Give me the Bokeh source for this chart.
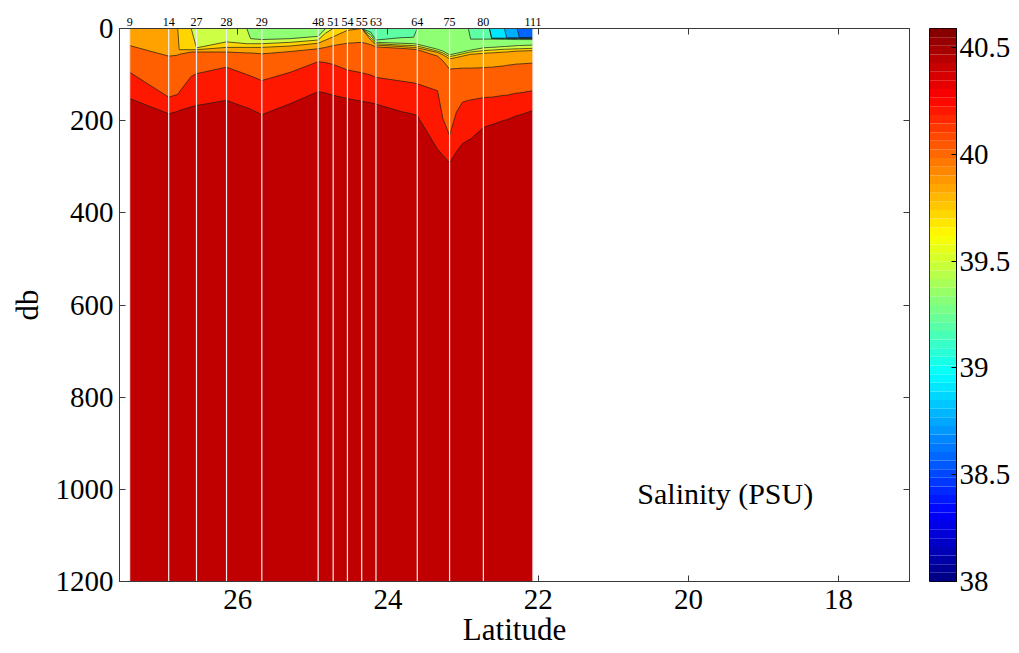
import numpy as np
from bokeh.plotting import figure
from bokeh.layouts import row
from bokeh.models import Range1d, LinearAxis, FixedTicker, Label
from bokeh.embed import file_html
from bokeh.resources import INLINE

# ---------------- data ----------------
station_names = ["9", "14", "27", "28", "29", "48", "51", "54", "55", "63", "64", "75", "80", "111"]
station_lat = [27.44, 26.92, 26.55, 26.15, 25.68, 24.93, 24.73, 24.54, 24.35, 24.16, 23.61, 23.18, 22.73, 22.07]

# latitudes of the section columns at which the isohaline depths were read
section_lat = [27.44, 26.92, 26.80, 26.78, 26.62, 26.55, 26.15, 25.88, 25.83, 25.68,
               25.30, 24.93, 24.83, 24.73, 24.54, 24.35, 24.23, 24.16, 23.83, 23.66,
               23.61, 23.34, 23.27, 23.18, 23.09, 23.01, 22.93, 22.90, 22.73, 22.65,
               22.62, 22.45, 22.42, 22.28, 22.25, 22.07]

# depth (db) of each isohaline along the section (0 = isohaline absent / above surface)
depth_38_8 = [0, 0, 0, 0, 0, 0, 0, 0, 0, 0, 0, 0, 0, 0, 0, 0, 0, 0, 0, 0,
              0, 0, 0, 0, 0, 0, 0, 0, 0, 0, 0, 0, 0, 0, 20, 20]
depth_39_0 = [0, 0, 0, 0, 0, 0, 0, 0, 0, 0, 0, 0, 0, 0, 0, 0, 0, 0, 0, 0,
              0, 0, 0, 0, 0, 0, 0, 0, 0, 0, 0, 0, 20.5, 20.5, 20.5, 20.5]
depth_39_1 = [0, 0, 0, 0, 0, 0, 0, 0, 0, 0, 0, 0, 0, 0, 0, 0, 0, 0, 0, 0,
              0, 0, 0, 0, 0, 0, 0, 0, 0, 0, 21, 21, 21, 21, 21, 21]
depth_39_2 = [0, 0, 0, 0, 0, 0, 0, 0, 0, 0, 0, 0, 0, 0, 0, 0, 0, 0, 0, 0,
              0, 0, 0, 0, 0, 0, 0, 0, 0, 0, 21.5, 21.5, 21.5, 21.5, 21.5, 21.5]
depth_39_3 = [0, 0, 0, 0, 0, 0, 0, 0, 0, 0, 0, 0, 0, 0, 0, 0, 8, 25, 20, 19,
              0, 0, 0, 0, 0, 0, 0, 23, 23, 23, 23, 23.5, 23.5, 24, 24, 24]
depth_39_5 = [0, 0, 0, 0, 0, 0, 0, 0, 22, 24, 22, 17, 0, 0, 0, 0, 14, 30, 32, 33,
              34, 45, 49, 57, 54, 51, 48, 47, 42, 41, 41, 39, 39, 37, 37, 36]
depth_39_7 = [0, 0, 0, 0, 0, 42, 29, 33, 33, 33, 30, 25, 10, 0, 0, 0, 20, 33, 36, 37,
              38, 49, 53, 61, 58, 55, 52, 51, 48, 47, 47, 45, 45, 44, 44, 43]
depth_39_8 = [0, 0, 0, 46, 46, 46, 41, 41, 41, 41, 38, 32, 25, 18, 4, 0, 25, 36, 39, 41,
              42, 52, 57, 66, 63, 60, 57, 56, 54, 53, 53, 51, 51, 49, 49, 48]
depth_40_0 = [37, 60, 58, 56, 51, 51, 51, 53, 53, 55, 50, 44, 41, 37, 32, 30, 35, 40, 43, 45,
              46, 60, 70, 88, 87, 86, 86, 86, 85, 84, 84, 81, 80, 77, 77, 75]
depth_40_2 = [95, 149, 143, 138, 104, 98, 84, 100, 103, 113, 95, 72, 74, 78, 90, 96, 101, 106, 114, 118,
              120, 135, 195, 232, 182, 160, 156, 155, 150, 149, 149, 145, 145, 140, 140, 135]
depth_40_4 = [152, 185, 180, 178, 170, 167, 156, 172, 175, 187, 163, 137, 140, 145, 152, 158, 161, 164, 180, 186,
              189, 262, 275, 291, 268, 250, 242, 240, 215, 210, 209, 199, 198, 189, 188, 178]

x_ticks = [26, 24, 22, 20, 18]
y_ticks = [0, 200, 400, 600, 800, 1000, 1200]
cbar_ticks = [38, 38.5, 39, 39.5, 40, 40.5]
cbar_labels = ["38", "38.5", "39", "39.5", "40", "40.5"]
sal_min, sal_max = 38.0, 40.59

# ---------------- styles ----------------
FONT = "Liberation Serif"
FONT2 = "Times New Roman"
FRAME = "#3a3a3a"
# fill painted from the surface down to each isohaline (deepest first)
layers = [
    (depth_40_4, "#ff1800"),   # 40.2 - 40.4
    (depth_40_2, "#ff5f00"),   # 40.0 - 40.2
    (depth_40_0, "#ffa200"),   # 39.8 - 40.0
    (depth_39_8, "#ffd400"),   # 39.7 - 39.8
    (depth_39_7, "#cdff45"),   # 39.5 - 39.7
    (depth_39_5, "#8fff74"),   # 39.3 - 39.5
    (depth_39_3, "#5effa4"),   # 39.2 - 39.3
    (depth_39_2, "#2effd2"),   # 39.1 - 39.2
    (depth_39_1, "#00e8ff"),   # 39.0 - 39.1
    (depth_39_0, "#00aeff"),   # 38.8 - 39.0
    (depth_38_8, "#0066ff"),   # 38.6 - 38.8
]
DEEP = "#c00000"


def jet(n):
    t = (np.arange(n) + 0.5) / n
    r = np.clip(1.5 - np.abs(4 * t - 3), 0, 1)
    g = np.clip(1.5 - np.abs(4 * t - 2), 0, 1)
    b = np.clip(1.5 - np.abs(4 * t - 1), 0, 1)
    return ["#%02x%02x%02x" % (int(round(a * 255)), int(round(c * 255)), int(round(d * 255)))
            for a, c, d in zip(r, g, b)]


# ================= main section plot =================
p = figure(width=929, height=653,
           x_range=Range1d(27.575, 17.056), y_range=Range1d(1200, 0),
           output_backend="svg", toolbar_location=None,
           min_border_left=119, min_border_right=20, min_border_top=28, min_border_bottom=72,
           x_axis_label="Latitude", y_axis_label="db")
p.background_fill_color = "white"
p.border_fill_color = "white"
p.outline_line_color = FRAME
p.outline_line_width = 1
p.xgrid.visible = False
p.ygrid.visible = False

# fills
p.varea(x=section_lat, y1=0, y2=1200, fill_color=DEEP)
for depth, col in layers:
    p.varea(x=section_lat, y1=0, y2=depth, fill_color=col)
# isohaline lines
for depth, _ in layers:
    p.line(section_lat, depth, line_color="#1a1a1a", line_width=0.7)

# station lines
p.segment(x0=station_lat, y0=0, x1=station_lat, y1=1200, line_color="#eeeeee", line_width=1.2)

# main axes
for ax in (p.below[0], p.left[0]):
    ax.major_tick_in = 6
    ax.major_tick_out = 0
    ax.minor_tick_line_color = None
    ax.axis_line_color = FRAME
    ax.major_tick_line_color = FRAME
    ax.major_label_text_font = FONT
    ax.major_label_text_font_size = "29px"
    ax.major_label_text_color = "black"
    ax.axis_label_text_font = FONT
    ax.axis_label_text_font_style = "normal"
    ax.axis_label_text_font_size = "31px"
    ax.axis_label_text_color = "black"
p.below[0].ticker = FixedTicker(ticks=x_ticks)
p.left[0].ticker = FixedTicker(ticks=y_ticks)
p.below[0].major_label_standoff = 8
p.below[0].axis_label_standoff = 0
p.left[0].major_label_standoff = 6
p.left[0].axis_label_standoff = 8

# top axis with station numbers and mirrored ticks
top = LinearAxis(ticker=FixedTicker(ticks=station_lat, minor_ticks=x_ticks),
                 major_label_overrides={lat: nm for lat, nm in zip(station_lat, station_names)})
top.major_tick_in = 0
top.major_tick_out = 0
top.minor_tick_in = 6
top.minor_tick_out = 0
top.minor_tick_line_color = FRAME
top.axis_line_color = FRAME
top.major_label_text_font = FONT
top.major_label_text_font_size = "12px"
top.major_label_text_color = "black"
top.major_label_standoff = 3
p.add_layout(top, "above")

# right axis: mirrored ticks only
right = LinearAxis(ticker=FixedTicker(ticks=y_ticks),
                   major_label_overrides={v: "" for v in y_ticks})
right.major_tick_in = 6
right.major_tick_out = 0
right.minor_tick_line_color = None
right.axis_line_color = FRAME
right.major_tick_line_color = FRAME
right.major_label_text_font = FONT
right.major_label_text_font_size = "1px"
right.major_label_standoff = 0
p.add_layout(right, "right")

p.add_layout(Label(x=20.68, y=1045, text="Salinity (PSU)",
                   text_font=FONT2, text_font_size="30px", text_color="black"))

# ================= colour bar (separate narrow figure) =================
jet64 = jet(64)
edges = np.linspace(sal_min, sal_max, len(jet64) + 1)
cbf = figure(width=90, height=653, x_range=Range1d(0, 1), y_range=Range1d(sal_min, sal_max),
             output_backend="svg", toolbar_location=None,
             x_axis_location=None, y_axis_location="right",
             min_border_left=0, min_border_right=63, min_border_top=28, min_border_bottom=72)
cbf.background_fill_color = "white"
cbf.border_fill_color = "white"
cbf.outline_line_color = "black"
cbf.xgrid.visible = False
cbf.ygrid.visible = False
cbf.quad(left=0, right=1, bottom=edges[:-1], top=edges[1:], fill_color=jet64, line_color=None)
cax = cbf.right[0]
cax.ticker = FixedTicker(ticks=cbar_ticks)
cax.major_label_overrides = {v: s for v, s in zip(cbar_ticks, cbar_labels)}
cax.major_tick_in = 5
cax.major_tick_out = 0
cax.minor_tick_line_color = None
cax.axis_line_color = "black"
cax.major_tick_line_color = "black"
cax.major_label_standoff = 3
cax.major_label_text_font = FONT2
cax.major_label_text_font_size = "29px"
cax.major_label_text_color = "black"

layout = row(p, cbf)
open("out.html", "w").write(file_html(layout, INLINE))
